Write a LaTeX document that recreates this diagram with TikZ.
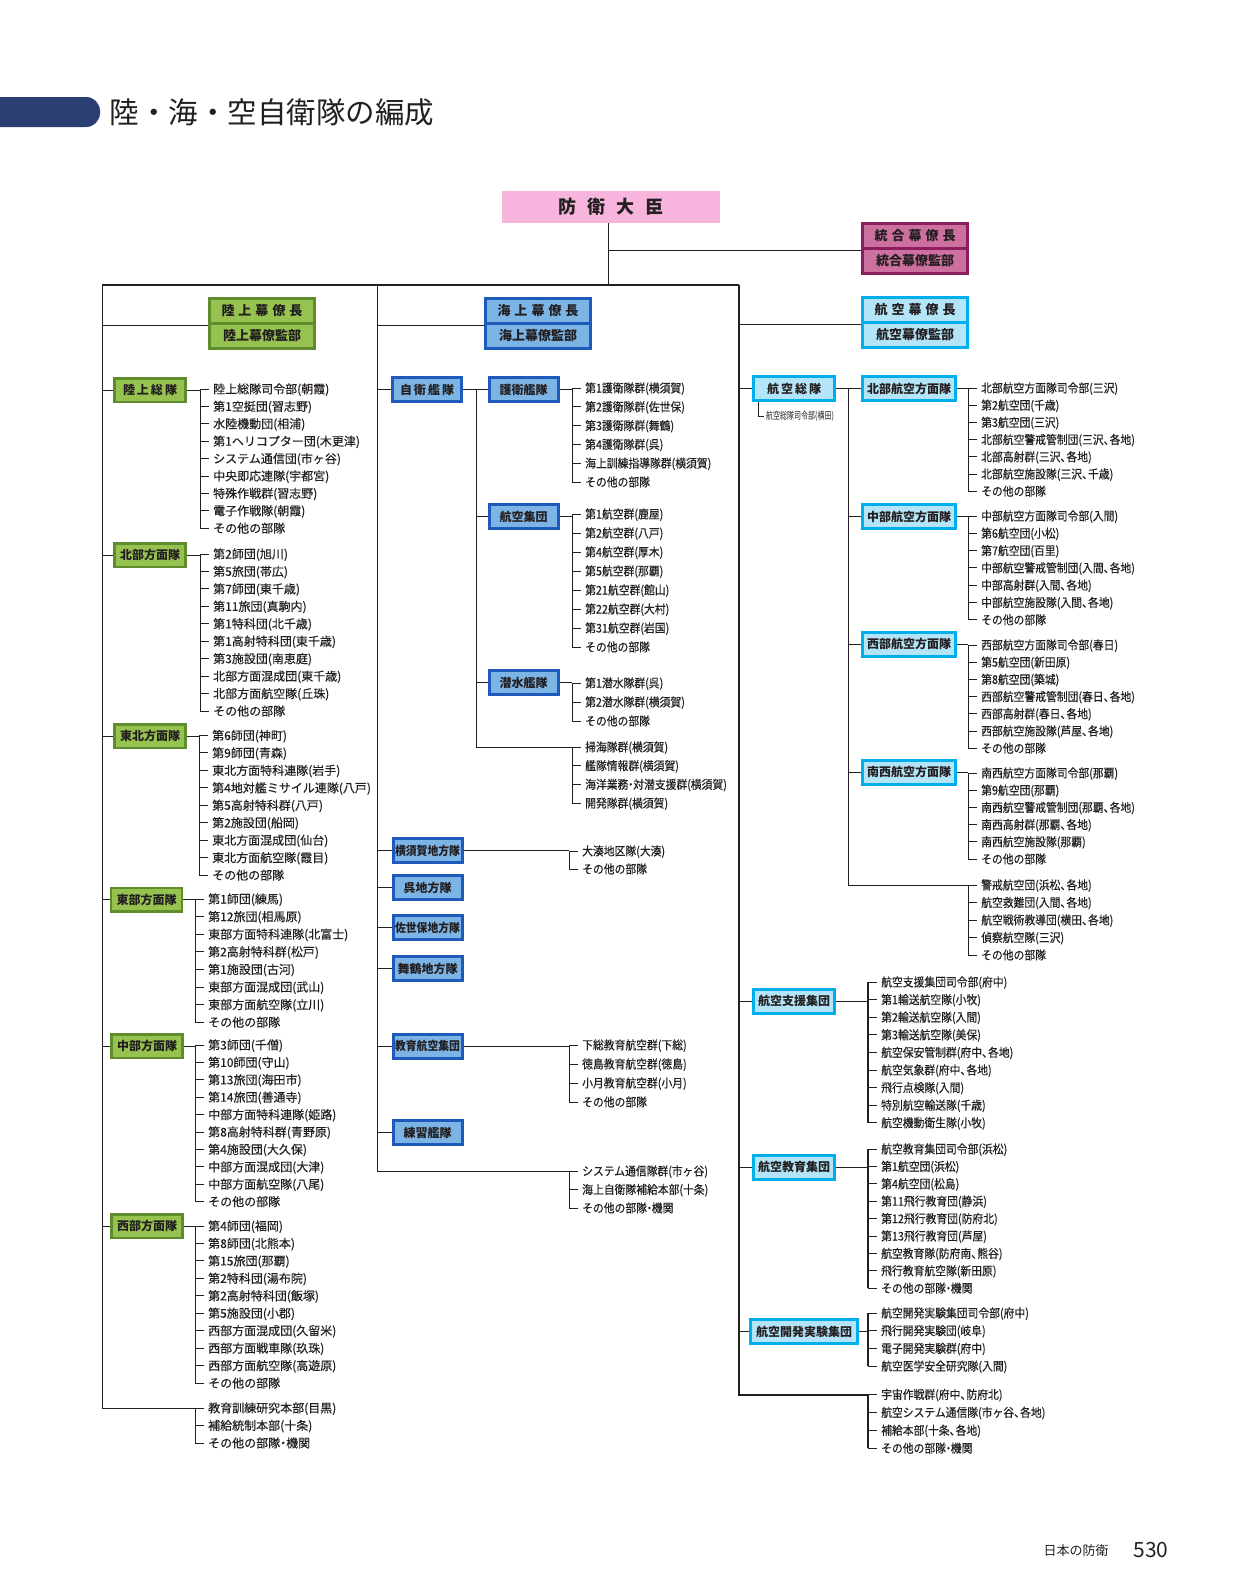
\documentclass[tikz,border=0pt]{standalone}
\usepackage{fontspec}
\setmainfont{Noto Sans CJK JP}
\newfontfamily\condfont[FakeStretch=0.9]{Noto Sans CJK JP}
\newfontfamily\narrowfont[FakeStretch=0.7]{Noto Sans CJK JP}
\newfontfamily\itemfont[FakeBold=0.4]{Noto Sans CJK JP}
\newfontfamily\conditemfont[FakeStretch=0.9,FakeBold=0.4]{Noto Sans CJK JP}
\usepackage{tikz}
\definecolor{inkgray}{RGB}{35,31,32}
\definecolor{titlebar}{RGB}{44,63,114}
\definecolor{daijinpink}{RGB}{247,180,220}
\definecolor{togofill}{RGB}{205,112,160}
\definecolor{togoedge}{RGB}{140,30,95}
\definecolor{rikufill}{RGB}{150,195,80}
\definecolor{rikuedge}{RGB}{95,140,45}
\definecolor{kaifill}{RGB}{125,180,230}
\definecolor{kaiedge}{RGB}{30,90,185}
\definecolor{kufill}{RGB}{180,228,248}
\definecolor{kuedge}{RGB}{0,174,236}

% narrow punctuation
\newcommand{\naka}{\kern-0.25em・\kern-0.25em}
\newcommand{\ten}{、\kern-0.4em}

\tikzset{
  twig/.style={line width=1pt,draw=inkgray},
  trunk/.style={line width=2pt,draw=inkgray},
  itm/.style={anchor=west,inner xsep=4pt,inner ysep=0pt,text=inkgray,
    font=\itemfont\fontsize{12}{12}\selectfont,text height=10pt,text depth=1pt},
  itmk/.style={itm,font=\conditemfont\fontsize{12}{12}\selectfont},
  gsdf/.style={draw=rikuedge,fill=rikufill,line width=2.5pt,minimum width=71pt,
    minimum height=23.5pt,inner sep=0pt,text=inkgray,font=\bfseries\fontsize{12}{12}\selectfont},
  msdf/.style={draw=kaiedge,fill=kaifill,line width=3pt,minimum width=69pt,
    minimum height=24pt,inner sep=0pt,text=inkgray,font=\bfseries\fontsize{12}{12}\selectfont},
  asdf/.style={draw=kuedge,fill=kufill,line width=3pt,minimum width=81pt,
    minimum height=24pt,inner sep=0pt,text=inkgray,font=\bfseries\fontsize{12}{12}\selectfont},
  staff/.style={line width=3pt,minimum width=105pt,minimum height=25pt,inner sep=0pt,
    text=inkgray,font=\bfseries\fontsize{13}{13}\selectfont},
}

% units under one command: [bracket opts] name, bracket x, first y, step, style, list
\newcommand{\unitlist}[7][]{%
  \coordinate (#2-b) at (#3,#4);
  \foreach \txt [count=\i] in {#7} {
    \node[#6] (#2-\i) at ({#3+9},{#4+(\i-1)*#5}) {\txt};
    \draw[twig] (#2-b |- #2-\i.west) -- (#2-\i.west);
    \xdef\lastunit{\i}
  }
  \draw[twig,#1] (#2-b) -- (#2-b |- #2-\lastunit.west);
}

\begin{document}
\begin{tikzpicture}[x=1pt,y=-1pt]
    \useasboundingbox (0,0) rectangle (1241,1595);

    % Title
    \fill[titlebar,rounded corners=14pt] (-30,97) rectangle (100,127);
    \node[anchor=west,text=inkgray,font=\fontsize{29.5}{29.5}\selectfont] (title) at (106,112) {陸・海・空自衛隊の編成};

    % Minister and joint staff
    \node[fill=daijinpink,minimum width=218pt,minimum height=32pt,inner sep=0pt,
      text=inkgray,font=\bfseries\fontsize{18}{18}\selectfont] (daijin) at (611,207)
      {防\hspace{11pt}衛\hspace{11pt}大\hspace{11pt}臣};
    \node[staff,draw=togoedge,fill=togofill] (togo1) at (915,236) {統\hspace{4pt}合\hspace{4pt}幕\hspace{4pt}僚\hspace{4pt}長};
    \node[staff,draw=togoedge,fill=togofill] (togo2) at (915,261) {統合幕僚監部};
    \coordinate (trunkTop) at (608,285);
    \draw[twig] (daijin.south -| trunkTop) -- (trunkTop);
    \draw[twig] (trunkTop |- togo1.south west) -- (togo1.south west);

    % Frame over the three services
    \coordinate (trunkL) at (102,285);
    \coordinate (trunkM) at (377,285);
    \coordinate (trunkR) at (739,285);
    \draw[trunk] (trunkL) -- (trunkR);

    % Staff offices
    \node[staff,draw=rikuedge,fill=rikufill] (riku1) at (262,311) {陸\hspace{4pt}上\hspace{4pt}幕\hspace{4pt}僚\hspace{4pt}長};
    \node[staff,draw=rikuedge,fill=rikufill] (riku2) at (262,336) {陸上幕僚監部};
    \node[staff,draw=kaiedge,fill=kaifill] (kai1) at (538,311) {海\hspace{4pt}上\hspace{4pt}幕\hspace{4pt}僚\hspace{4pt}長};
    \node[staff,draw=kaiedge,fill=kaifill] (kai2) at (538,336) {海上幕僚監部};
    \node[staff,draw=kuedge,fill=kufill] (ku1) at (915,310) {航\hspace{4pt}空\hspace{4pt}幕\hspace{4pt}僚\hspace{4pt}長};
    \node[staff,draw=kuedge,fill=kufill] (ku2) at (915,335) {航空幕僚監部};
    \draw[twig] (trunkL |- riku1.south west) -- (riku1.south west);
    \draw[twig] (trunkM |- kai1.south west) -- (kai1.south west);
    \draw[twig] (trunkR |- ku1.south west) -- (ku1.south west);

    % Ground
    \node[gsdf] (rikuso) at (150,390) {陸\,上\,総\,隊};
    \node[gsdf] (hokubu) at (150,555) {北部方面隊};
    \node[gsdf] (tohoku) at (150,736) {東北方面隊};
    \node[gsdf] (tobu) at (146.5,899.5) {東部方面隊};
    \node[gsdf] (chubu) at (147,1046) {中部方面隊};
    \node[gsdf] (seibu) at (147,1226) {西部方面隊};
    \unitlist{rikuso}{200}{389}{17.4}{itm}{陸上総隊司令部(朝霞),第1空挺団(習志野),水陸機動団(相浦),第1ヘリコプター団(木更津),システム通信団(市ヶ谷),中央即応連隊(宇都宮),特殊作戦群(習志野),電子作戦隊(朝霞),その他の部隊}
    \unitlist{hokubu}{200}{554}{17.45}{itm}{第2師団(旭川),第5旅団(帯広),第7師団(東千歳),第11旅団(真駒内),第1特科団(北千歳),第1高射特科団(東千歳),第3施設団(南恵庭),北部方面混成団(東千歳),北部方面航空隊(丘珠),その他の部隊}
    \unitlist{tohoku}{199}{735.5}{17.45}{itm}{第6師団(神町),第9師団(青森),東北方面特科連隊(岩手),第4地対艦ミサイル連隊(八戸),第5高射特科群(八戸),第2施設団(船岡),東北方面混成団(仙台),東北方面航空隊(霞目),その他の部隊}
    \unitlist{tobu}{195}{899}{17.6}{itm}{第1師団(練馬),第12旅団(相馬原),東部方面特科連隊(北富士),第2高射特科群(松戸),第1施設団(古河),東部方面混成団(武山),東部方面航空隊(立川),その他の部隊}
    \unitlist{chubu}{195}{1045}{17.4}{itm}{第3師団(千僧),第10師団(守山),第13旅団(海田市),第14旅団(善通寺),中部方面特科連隊(姫路),第8高射特科群(青野原),第4施設団(大久保),中部方面混成団(大津),中部方面航空隊(八尾),その他の部隊}
    \unitlist{seibu}{195}{1226}{17.45}{itm}{第4師団(福岡),第8師団(北熊本),第15旅団(那覇),第2特科団(湯布院),第2高射特科団(飯塚),第5施設団(小郡),西部方面混成団(久留米),西部方面戦車隊(玖珠),西部方面航空隊(高遊原),その他の部隊}
    \unitlist{gbot}{195}{1408}{17.5}{itm}{教育訓練研究本部(目黒),補給統制本部(十条),その他の部隊\naka 機関}
    \draw[twig] (trunkL) |- (gbot-b);
    \foreach \nm in {rikuso,hokubu,tohoku,tobu,chubu,seibu} {
      \draw[twig] (trunkL |- \nm) -- (\nm);
      \draw[twig] (\nm) -- (\nm -| \nm-b);
    }

    % Maritime
    \node[msdf] (jiei) at (427,389.5) {自\,衛\,艦\,隊};
    \node[msdf] (goei) at (523.5,389.5) {護衛艦隊};
    \node[msdf] (kokushu) at (523.5,516.5) {航空集団};
    \node[msdf] (sensui) at (523.5,682.5) {潜水艦隊};
    \node[msdf] (yokosuka) at (427.5,850.5) {\condfont 横須賀地方隊};
    \node[msdf] (kure) at (427.5,887.5) {呉地方隊};
    \node[msdf] (sasebo) at (427.5,927.5) {\condfont 佐世保地方隊};
    \node[msdf] (maizuru) at (427.5,968.5) {舞鶴地方隊};
    \node[msdf] (kyokoku) at (427.5,1046) {\condfont 教育航空集団};
    \node[msdf] (renshu) at (427.5,1132.5) {練習艦隊};
    \unitlist{goei}{572}{388}{18.8}{itmk}{第1護衛隊群(横須賀),第2護衛隊群(佐世保),第3護衛隊群(舞鶴),第4護衛隊群(呉),海上訓練指導隊群(横須賀),その他の部隊}
    \unitlist{kokushu}{572}{514}{19}{itmk}{第1航空群(鹿屋),第2航空群(八戸),第4航空群(厚木),第5航空群(那覇),第21航空群(館山),第22航空群(大村),第31航空群(岩国),その他の部隊}
    \unitlist{sensui}{572}{683}{19}{itmk}{第1潜水隊群(呉),第2潜水隊群(横須賀),その他の部隊}
    \unitlist{msub}{572}{747}{18.7}{itmk}{掃海隊群(横須賀),艦隊情報群(横須賀),海洋業務\naka 対潜支援群(横須賀),開発隊群(横須賀)}
    \unitlist{yokosuka}{569}{851}{18}{itmk}{大湊地区隊(大湊),その他の部隊}
    \unitlist{kyokoku}{569}{1045}{19}{itmk}{下総教育航空群(下総),徳島教育航空群(徳島),小月教育航空群(小月),その他の部隊}
    \unitlist{mbot}{569}{1171}{18.5}{itmk}{システム通信隊群(市ヶ谷),海上自衛隊補給本部(十条),その他の部隊\naka 機関}
    \draw[twig] (trunkM) |- (mbot-b);
    \foreach \nm in {jiei,yokosuka,kure,sasebo,maizuru,kyokoku,renshu}
      \draw[twig] (trunkM |- \nm) -- (\nm);
    \coordinate (jiei-t) at (476,389.5);
    \draw[twig] (jiei) -- (goei);
    \draw[twig] (jiei-t) |- (msub-b);
    \foreach \nm in {kokushu,sensui}
      \draw[twig] (jiei-t |- \nm) -- (\nm);
    \foreach \nm in {goei,kokushu,sensui,yokosuka,kyokoku}
      \draw[twig] (\nm) -- (\nm -| \nm-b);

    % Air
    \node[asdf] (soutai) at (794,388.5) {航\,空\,総\,隊};
    \node[asdf,minimum width=93pt] (hokuku) at (909,388.5) {北部航空方面隊};
    \node[asdf,minimum width=93pt] (chuku) at (909,516.5) {中部航空方面隊};
    \node[asdf,minimum width=93pt] (seiku) at (909,644) {西部航空方面隊};
    \node[asdf,minimum width=93pt] (nanku) at (909,772) {南西航空方面隊};
    \node[asdf] (shien) at (794,1001) {航空支援集団};
    \node[asdf] (kuiku) at (794,1167) {航空教育集団};
    \node[asdf,minimum width=107pt] (kaihatsu) at (804,1331.5) {航空開発実験集団};
    \node[anchor=west,inner sep=2pt,text=inkgray,font=\narrowfont\fontsize{10}{10}\selectfont] (soutaihq) at (764,416) {航空総隊司令部(横田)};
    \draw[twig] ([xshift=-36pt]soutai.south) |- (soutaihq.west);
    \unitlist{hokuku}{968}{388}{17.2}{itmk}{北部航空方面隊司令部(三沢),第2航空団(千歳),第3航空団(三沢),北部航空警戒管制団(三沢\ten 各地),北部高射群(三沢\ten 各地),北部航空施設隊(三沢\ten 千歳),その他の部隊}
    \unitlist{chuku}{968}{516}{17.3}{itmk}{中部航空方面隊司令部(入間),第6航空団(小松),第7航空団(百里),中部航空警戒管制団(入間\ten 各地),中部高射群(入間\ten 各地),中部航空施設隊(入間\ten 各地),その他の部隊}
    \unitlist{seiku}{968}{645}{17.2}{itmk}{西部航空方面隊司令部(春日),第5航空団(新田原),第8航空団(築城),西部航空警戒管制団(春日\ten 各地),西部高射群(春日\ten 各地),西部航空施設隊(芦屋\ten 各地),その他の部隊}
    \unitlist{nanku}{968}{773}{17.2}{itmk}{南西航空方面隊司令部(那覇),第9航空団(那覇),南西航空警戒管制団(那覇\ten 各地),南西高射群(那覇\ten 各地),南西航空施設隊(那覇),その他の部隊}
    \unitlist{asub}{968}{885}{17.5}{itmk}{警戒航空団(浜松\ten 各地),航空救難団(入間\ten 各地),航空戦術教導団(横田\ten 各地),偵察航空隊(三沢),その他の部隊}
    \unitlist[trunk]{shien}{868}{982}{17.6}{itmk}{航空支援集団司令部(府中),第1輸送航空隊(小牧),第2輸送航空隊(入間),第3輸送航空隊(美保),航空保安管制群(府中\ten 各地),航空気象群(府中\ten 各地),飛行点検隊(入間),特別航空輸送隊(千歳),航空機動衛生隊(小牧)}
    \unitlist[trunk]{kuiku}{868}{1149}{17.4}{itmk}{航空教育集団司令部(浜松),第1航空団(浜松),第4航空団(松島),第11飛行教育団(静浜),第12飛行教育団(防府北),第13飛行教育団(芦屋),航空教育隊(防府南\ten 熊谷),飛行教育航空隊(新田原),その他の部隊\naka 機関}
    \unitlist[trunk]{kaihatsu}{868}{1313}{17.7}{itmk}{航空開発実験集団司令部(府中),飛行開発実験団(岐阜),電子開発実験群(府中),航空医学安全研究隊(入間)}
    \unitlist[trunk]{abot}{868}{1394.5}{17.9}{itmk}{宇宙作戦群(府中\ten 防府北),航空システム通信隊(市ヶ谷\ten 各地),補給本部(十条\ten 各地),その他の部隊\naka 機関}
    \draw[trunk] (trunkR) |- (abot-b);
    \foreach \nm in {soutai,shien,kuiku,kaihatsu}
      \draw[twig] (trunkR |- \nm) -- (\nm);
    \coordinate (soutai-t) at (848,388.5);
    \draw[twig] (soutai) -- (hokuku);
    \draw[twig] (soutai-t) |- (asub-b);
    \foreach \nm in {chuku,seiku,nanku}
      \draw[twig] (soutai-t |- \nm) -- (\nm);
    \foreach \nm in {hokuku,chuku,seiku,nanku,shien,kuiku,kaihatsu}
      \draw[twig] (\nm) -- (\nm -| \nm-b);

    % Page footer
    \node[anchor=west,text=inkgray,font=\fontsize{13}{13}\selectfont] (footer) at (1040,1551) {日本の防衛};
    \node[anchor=west,text=inkgray,font=\fontsize{21}{21}\selectfont] (pageno) at (1130,1550) {530};
\end{tikzpicture}
\end{document}
